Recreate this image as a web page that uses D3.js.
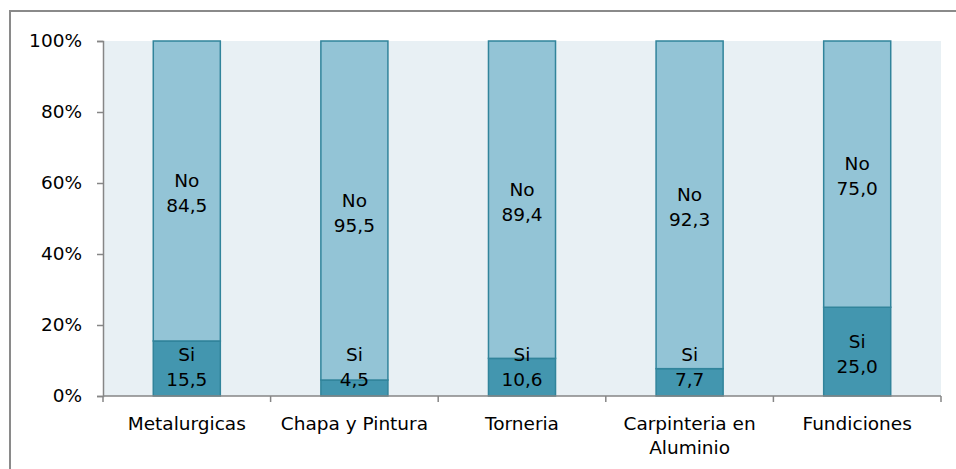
<!DOCTYPE html>
<html><head><meta charset="utf-8">
<script src="https://cdn.jsdelivr.net/npm/d3@7"></script>
<style>body{margin:0;background:#fff}svg{display:block;font-family:"DejaVu Sans",Verdana,sans-serif}</style>
</head><body><svg id="c" width="956" height="469"></svg>
<script>
const categories = [["Metalurgicas"],["Chapa y Pintura"],["Torneria"],["Carpinteria en","Aluminio"],["Fundiciones"]];
const siValues = [15.5, 4.5, 10.6, 7.7, 25.0];
const noValues = [84.5, 95.5, 89.4, 92.3, 75.0];
const yTicks = [0, 20, 40, 60, 80, 100];

const svg = d3.select("#c");
const m = {l:103, r:941, t:41, b:396};
svg.append("rect").attr("x",10).attr("y",11).attr("width",980).attr("height",500)
  .attr("fill","#fff").attr("stroke","#8a8a8a").attr("stroke-width",2);
svg.append("rect").attr("x",m.l).attr("y",m.t).attr("width",m.r-m.l).attr("height",m.b-m.t).attr("fill","#E8F0F4");

const x = d3.scaleBand().domain(d3.range(categories.length)).range([m.l,m.r]).paddingInner(0.594).paddingOuter(0.297);
const y = d3.scaleLinear().domain([0,100]).range([m.b,m.t]);

const fmt = v => v.toFixed(1).replace(".", ",");
const series = [
  {name:"Si", vals:siValues, fill:"#4396AF"},
  {name:"No", vals:noValues, fill:"#93C4D6"}
];
const barsG = svg.append("g"), labG = svg.append("g");
categories.forEach((c,i)=>{
  let base = 0;
  series.forEach(s=>{
    const v = s.vals[i];
    const y0 = y(base), y1 = y(base+v);
    barsG.append("rect").attr("x",x(i)+0.5).attr("y",y1).attr("width",x.bandwidth()-1).attr("height",y0-y1)
      .attr("fill",s.fill).attr("stroke","#31849B").attr("stroke-width",1.5);
    let cy = (y0+y1)/2;
    cy = Math.min(cy, m.b-31);
    const cx = x(i)+x.bandwidth()/2;
    const t = labG.append("text").attr("text-anchor","middle").attr("font-size",18.5).attr("fill","#000");
    t.append("tspan").attr("x",cx).attr("y",cy-4).text(s.name);
    t.append("tspan").attr("x",cx).attr("y",cy+21).text(fmt(v));
    base += v;
  });
});

// y axis
const ya = svg.append("g").attr("transform",`translate(${m.l},0)`)
  .call(d3.axisLeft(y).tickValues(yTicks).tickFormat(d=>d+"%").tickSize(6).tickPadding(15));
ya.selectAll("path,line").attr("stroke","#868686").attr("stroke-width",1.5);
ya.selectAll("text").attr("font-size",18.5).attr("font-family","DejaVu Sans").attr("fill","#000");

// x axis
const xa = svg.append("g").attr("transform",`translate(0,${m.b})`);
xa.append("line").attr("x1",m.l).attr("x2",m.r).attr("y1",0).attr("y2",0).attr("stroke","#868686").attr("stroke-width",1.5);
const bounds = d3.range(categories.length+1).map(i=> m.l + i*(m.r-m.l)/categories.length);
xa.selectAll("line.tk").data(bounds).join("line").attr("class","tk")
  .attr("x1",d=>d).attr("x2",d=>d).attr("y1",0).attr("y2",6).attr("stroke","#868686").attr("stroke-width",1.5);
categories.forEach((c,i)=>{
  const cx = x(i)+x.bandwidth()/2;
  const t = xa.append("text").attr("text-anchor","middle").attr("font-size",18.5).attr("fill","#000");
  c.forEach((line,j)=> t.append("tspan").attr("x",cx).attr("y",34+j*24).text(line));
});
</script></body></html>
